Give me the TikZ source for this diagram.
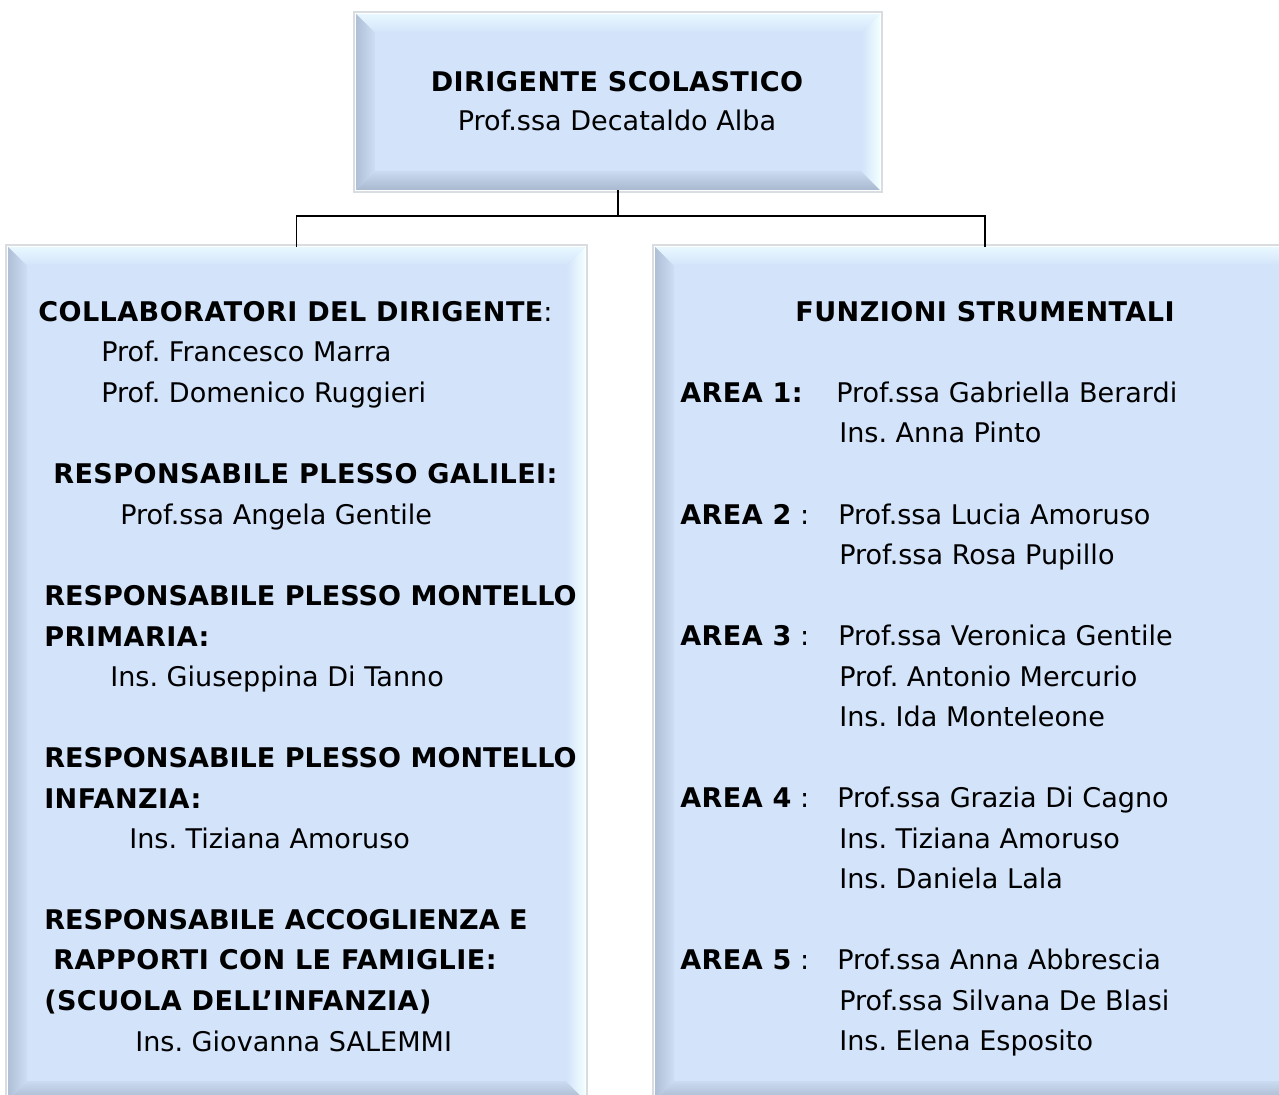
\documentclass[tikz,border=0pt]{standalone}
\usepackage{fontspec}
\setmainfont{DejaVu Sans}
\newfontfamily\widebf{DejaVu Sans}[UprightFont={* Bold}, LetterSpace=1.6]
\usepackage{xcolor}
\usetikzlibrary{fit}

\definecolor{panelfill}{HTML}{D2E3FA}
\definecolor{bevtop}{HTML}{E9F8FF}
\definecolor{bevleft}{HTML}{AEBFD6}
\definecolor{bevbot}{HTML}{A8B9CF}
\definecolor{bevright}{HTML}{F2FFFF}
\definecolor{panelrim}{HTML}{D9DDE2}

\def\bw{19}
% bevelled panel: name, x1, y1, x2, y2
\newcommand{\bevelpanel}[5]{%
  \draw[panelrim, line width=1.5] (#2-2,#3-2) rectangle (#4+2,#5+2);
  \fill[panelfill] (#2,#3) rectangle (#4,#5);
  \shade[top color=bevtop, bottom color=panelfill] (#2,#3) -- (#4,#3) -- (#4-\bw,#3+\bw) -- (#2+\bw,#3+\bw) -- cycle;
  \shade[left color=bevleft, right color=panelfill!85!bevleft] (#2,#3) -- (#2+\bw,#3+\bw) -- (#2+\bw,#5-\bw) -- (#2,#5) -- cycle;
  \shade[top color=panelfill!80!bevbot, bottom color=bevbot] (#2,#5) -- (#2+\bw,#5-\bw) -- (#4-\bw,#5-\bw) -- (#4,#5) -- cycle;
  \shade[left color=panelfill, right color=bevright] (#4,#3) -- (#4,#5) -- (#4-\bw,#5-\bw) -- (#4-\bw,#3+\bw) -- cycle;
  \node[fit={(#2,#3) (#4,#5)}, inner sep=0pt] (#1) {};
}

\tikzset{
  txt/.style={anchor=base west, inner sep=0pt, font=\fontsize{20.3}{24}\selectfont},
  mid/.style={anchor=base, inner sep=0pt, font=\fontsize{20.3}{24}\selectfont},
  head/.style={txt, font=\fontsize{20.3}{24}\selectfont\widebf},
  tight/.style={txt, font=\fontsize{20.3}{24}\selectfont\bfseries},
  link/.style={draw=black, line width=1.2}
}

\frenchspacing
\begin{document}
\begin{tikzpicture}[x=0.75pt,y=0.75pt,yscale=-1,xscale=1]
\useasboundingbox (0,0) rectangle (1279,1095);

\bevelpanel{dir}{356}{14}{880}{190}
\bevelpanel{left}{8}{247}{585}{1100}
\bevelpanel{right}{655}{247}{1315}{1100}

\draw[link] (dir.south) -- ++(0,26) -| (left.north);
\draw[link] (dir.south) -- ++(0,26) -| (right.north);

\node[mid] (dirtitle) at (617,92) {\widebf DIRIGENTE SCOLASTICO};
\node[mid] (dirname) at (617,131) {Prof.ssa Decataldo Alba};

\node[txt] (collab) at (38,321) {{\widebf COLLABORATORI DEL DIRIGENTE}:};
\node[txt] (marra) at (101,361) {Prof. Francesco Marra};
\node[txt] (ruggieri) at (101,402) {Prof. Domenico Ruggieri};
\node[head] (galilei) at (53,483) {RESPONSABILE PLESSO GALILEI:};
\node[txt] (gentile) at (120,524) {Prof.ssa Angela Gentile};
\node[tight] (montp) at (44,605) {RESPONSABILE PLESSO MONTELLO};
\node[head] (primaria) at (44,646) {PRIMARIA:};
\node[txt] (ditanno) at (110,686) {Ins. Giuseppina Di Tanno};
\node[tight] (monti) at (44,767) {RESPONSABILE PLESSO MONTELLO};
\node[head] (infanzia) at (44,808) {INFANZIA:};
\node[txt] (amoruso) at (129,848) {Ins. Tiziana Amoruso};
\node[tight] (accogl) at (44,929) {RESPONSABILE ACCOGLIENZA E};
\node[head] (rapporti) at (53,969) {RAPPORTI CON LE FAMIGLIE:};
\node[head] (scuola) at (44,1010) {(SCUOLA DELL’INFANZIA)};
\node[txt] (salemmi) at (135,1051) {Ins. Giovanna SALEMMI};

\node[mid] (funz) at (985,321) {\widebf FUNZIONI STRUMENTALI};

\node[head] (area1) at (680,402) {AREA 1:};
\node[txt] (a1p1) at (836,402) {Prof.ssa Gabriella Berardi};
\node[txt] (a1p2) at (839,442) {Ins. Anna Pinto};

\node[txt] (area2) at (680,524) {{\widebf AREA 2} :};
\node[txt] (a2p1) at (838,524) {Prof.ssa Lucia Amoruso};
\node[txt] (a2p2) at (839,564) {Prof.ssa Rosa Pupillo};

\node[txt] (area3) at (680,645) {{\widebf AREA 3} :};
\node[txt] (a3p1) at (838,645) {Prof.ssa Veronica Gentile};
\node[txt] (a3p2) at (839,686) {Prof. Antonio Mercurio};
\node[txt] (a3p3) at (839,726) {Ins. Ida Monteleone};

\node[txt] (area4) at (680,807) {{\widebf AREA 4} :};
\node[txt] (a4p1) at (837,807) {Prof.ssa Grazia Di Cagno};
\node[txt] (a4p2) at (839,848) {Ins. Tiziana Amoruso};
\node[txt] (a4p3) at (839,888) {Ins. Daniela Lala};

\node[txt] (area5) at (680,969) {{\widebf AREA 5} :};
\node[txt] (a5p1) at (837,969) {Prof.ssa Anna Abbrescia};
\node[txt] (a5p2) at (839,1010) {Prof.ssa Silvana De Blasi};
\node[txt] (a5p3) at (839,1050) {Ins. Elena Esposito};

\end{tikzpicture}
\end{document}
